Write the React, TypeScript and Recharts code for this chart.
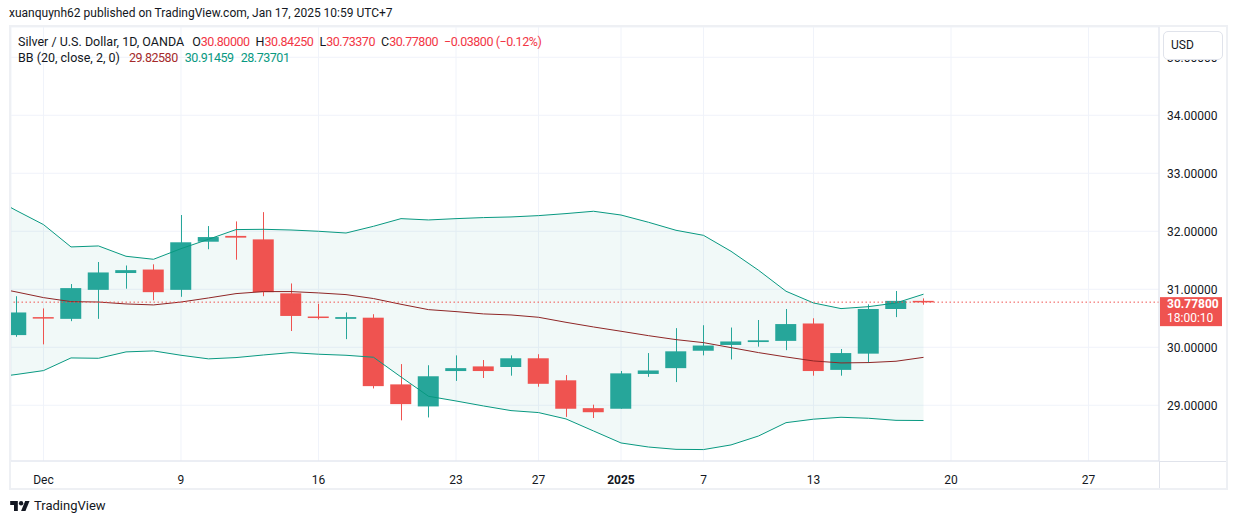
import { Area, Bar, CartesianGrid, ComposedChart, Line, ReferenceLine, XAxis, YAxis } from "recharts"

const UP = "#26a69a"
const DOWN = "#ef5350"
const BAND = "#089981"
const BASIS = "#8f2626"
const TEXT = "#131722"
const FONT = "Roboto, 'Noto Sans', sans-serif"

// first entry (Nov 28) only carries band values, it sits left of the visible range
const days = [
  "Nov 28", "Nov 29", "Dec 2", "Dec 3", "Dec 4", "Dec 5", "Dec 6", "Dec 9", "Dec 10", "Dec 11", "Dec 12",
  "Dec 13", "Dec 16", "Dec 17", "Dec 18", "Dec 19", "Dec 20", "Dec 23", "Dec 24", "Dec 26", "Dec 27",
  "Dec 30", "Dec 31", "Jan 2", "Jan 3", "Jan 6", "Jan 7", "Jan 8", "Jan 9", "Jan 10", "Jan 13",
  "Jan 14", "Jan 15", "Jan 16", "Jan 17",
]

const opens = [
  30.21, 30.52, 30.49, 30.99, 31.28, 31.34, 30.99, 31.82, 31.92, 31.86, 30.93, 30.53, 30.49, 30.51, 29.36, 28.98, 29.59,
  29.67, 29.66, 29.81, 29.43, 28.95, 28.94, 29.54, 29.64, 29.94, 30.04, 30.09, 30.11, 30.41, 29.61, 29.89, 30.66, 30.8,
]
const highs = [
  30.88, 30.67, 31.09, 31.47, 31.41, 31.43, 32.28, 32.09, 32.17, 32.33, 31.1, 30.75, 30.6, 30.57, 29.71, 29.69, 29.86,
  29.78, 29.86, 29.88, 29.52, 29.01, 29.59, 29.9, 30.33, 30.38, 30.34, 30.47, 30.66, 30.5, 29.97, 30.74, 30.97, 30.8425,
]
const lows = [
  30.18, 30.05, 30.45, 30.49, 31.01, 30.81, 30.87, 31.69, 31.51, 30.88, 30.28, 30.48, 30.14, 29.29, 28.74, 28.79, 29.42,
  29.47, 29.51, 29.32, 28.8, 28.78, 28.94, 29.49, 29.4, 29.86, 29.79, 30.01, 29.95, 29.51, 29.51, 29.73, 30.52, 30.7337,
]
const closes = [
  30.6, 30.5, 31.02, 31.29, 31.33, 30.95, 31.81, 31.9, 31.89, 30.95, 30.54, 30.51, 30.52, 29.33, 29.02, 29.5, 29.64,
  29.59, 29.81, 29.37, 28.94, 28.88, 29.55, 29.6, 29.93, 30.03, 30.1, 30.12, 30.4, 29.59, 29.9, 30.66, 30.8, 30.778,
]

const upper = [
  32.62, 32.36, 32.115, 31.73, 31.747, 31.569, 31.517, 31.7, 31.862, 32.029, 32.034, 32.022, 32.0, 31.97, 32.086, 32.218,
  32.195, 32.218, 32.236, 32.247, 32.27, 32.305, 32.345, 32.28, 32.155, 32.017, 31.93, 31.655, 31.328, 30.966, 30.764,
  30.667, 30.7, 30.764, 30.915,
]
const basis = [
  31.05, 30.955, 30.856, 30.787, 30.78, 30.747, 30.73, 30.78, 30.85, 30.925, 30.96, 30.96, 30.937, 30.908, 30.84, 30.741,
  30.649, 30.615, 30.575, 30.557, 30.517, 30.43, 30.35, 30.276, 30.2, 30.132, 30.08, 29.994, 29.908, 29.833, 29.764,
  29.73, 29.736, 29.759, 29.826,
]
const lower = [
  29.47, 29.53, 29.598, 29.816, 29.81, 29.92, 29.937, 29.862, 29.8, 29.822, 29.867, 29.908, 29.88, 29.862, 29.828, 29.488,
  29.155, 29.074, 28.988, 28.908, 28.874, 28.764, 28.557, 28.35, 28.28, 28.24, 28.236, 28.316, 28.47, 28.7, 28.76,
  28.793, 28.776, 28.74, 28.737,
]

const tickIdx = [1, 6, 11, 16, 19, 22, 25, 29, 34, 39]
const tickLabels = ["Dec", "9", "16", "23", "27", "2025", "7", "13", "20", "27"]
const priceTicks = [29, 30, 31, 32, 33, 34, 35]
const lastPrice = 30.778

const rows = days.map((day, k) => {
  const c = k - 1
  const has = c >= 0
  return {
    i: k - 1,
    day,
    open: has ? opens[c] : null,
    high: has ? highs[c] : null,
    low: has ? lows[c] : null,
    close: has ? closes[c] : null,
    range: has ? [lows[c], highs[c]] : null,
    upper: upper[k],
    basis: basis[k],
    lower: lower[k],
    band: [lower[k], upper[k]],
  }
})

function Candle(props: any) {
  const { x, y, width, height, payload } = props
  if (!payload || payload.open == null || height == null) return null
  const top = height >= 0 ? y : y + height
  const h = Math.abs(height)
  const k = h / (payload.high - payload.low)
  const yo = top + (payload.high - payload.open) * k
  const yc = top + (payload.high - payload.close) * k
  const color = payload.close >= payload.open ? UP : DOWN
  const cx = Math.round(x + width / 2) + 0.5
  return (
    <g>
      <line x1={cx} x2={cx} y1={top} y2={top + h} stroke={color} strokeWidth={1} />
      <rect x={x} y={Math.min(yo, yc)} width={width} height={Math.max(Math.abs(yo - yc), 1.5)} fill={color} />
    </g>
  )
}

function TimeTick(props: any) {
  const { x, y, payload } = props
  const label = tickLabels[tickIdx.indexOf(payload.value)]
  return (
    <text x={x} y={y + 15} textAnchor="middle" fill={TEXT} fontSize={12} fontFamily={FONT} fontWeight={label === "2025" ? 700 : 400}>
      {label}
    </text>
  )
}

function PriceTag(props: any) {
  const { viewBox } = props
  const right = viewBox.x + viewBox.width
  const y = viewBox.y
  return (
    <g>
      <rect x={right + 1} y={y - 5} width={62} height={29} fill={DOWN} />
      <text x={right + 8} y={y + 6} fill="#fff" fontSize={12} fontWeight={700} fontFamily={FONT}>
        {lastPrice.toFixed(5)}
      </text>
      <text x={right + 8} y={y + 20} fill="#fff" fontSize={12} fontFamily={FONT}>
        18:00:10
      </text>
    </g>
  )
}

const num = { letterSpacing: -0.45 }

export default function App() {
  return (
    <div style={{ position: "fixed", left: 0, top: 0, width: 1237, height: 524, background: "#fff", fontFamily: FONT, color: TEXT }}>
      <div style={{ position: "absolute", left: 9, top: 6, fontSize: 12, whiteSpace: "nowrap" }}>
        xuanquynh62 published on TradingView.com, Jan 17, 2025 10:59 UTC+7
      </div>

      <div style={{ position: "absolute", left: 9, top: 25, width: 1219, height: 465, boxSizing: "border-box", border: "2px solid #eef0f4" }} />

      <div style={{ position: "absolute", left: 11, top: 27 }}>
        <ComposedChart width={1215} height={461} data={rows} margin={{ top: 0, right: 0, bottom: 0, left: 0 }}>
          <CartesianGrid stroke="#f0f3fa" />
          <XAxis
            dataKey="i"
            type="number"
            domain={[-0.1818, 41.5636]}
            allowDataOverflow
            ticks={tickIdx}
            tick={<TimeTick />}
            tickLine={false}
            axisLine={{ stroke: "#e0e3eb" }}
            height={27}
            interval={0}
          />
          <YAxis
            orientation="right"
            type="number"
            domain={[28.039, 35.522]}
            allowDataOverflow
            ticks={priceTicks}
            tickFormatter={(v: number) => v.toFixed(5)}
            tick={{ fill: TEXT, fontSize: 12, fontFamily: FONT }}
            tickLine={false}
            axisLine={{ stroke: "#e0e3eb" }}
            width={67}
          />
          <Area dataKey="band" stroke="none" fill={BAND} fillOpacity={0.055} isAnimationActive={false} />
          <Line dataKey="upper" stroke={BAND} strokeWidth={1} dot={false} isAnimationActive={false} />
          <Line dataKey="lower" stroke={BAND} strokeWidth={1} dot={false} isAnimationActive={false} />
          <Line dataKey="basis" stroke={BASIS} strokeWidth={1} dot={false} isAnimationActive={false} />
          <ReferenceLine y={lastPrice} stroke={DOWN} strokeDasharray="1.5 2.5" label={<PriceTag />} />
          <Bar dataKey="range" barSize={21} shape={<Candle />} isAnimationActive={false} />
        </ComposedChart>
      </div>

      <div style={{ position: "absolute", left: 1159, top: 461, width: 1, height: 27, background: "#e0e3eb" }} />
      <div style={{ position: "absolute", left: 1159, top: 461, width: 67, height: 1, background: "#e0e3eb" }} />

      <div style={{ position: "absolute", left: 18, top: 34, fontSize: 12.5, whiteSpace: "nowrap", lineHeight: "16px" }}>
        <div>
          Silver / U.S. Dollar, 1D, OANDA
          <span style={{ marginLeft: 8 }}>O</span><span style={{ ...num, color: "#f23645" }}>30.80000</span>
          <span style={{ marginLeft: 6 }}>H</span><span style={{ ...num, color: "#f23645" }}>30.84250</span>
          <span style={{ marginLeft: 6 }}>L</span><span style={{ ...num, color: "#f23645" }}>30.73370</span>
          <span style={{ marginLeft: 6 }}>C</span><span style={{ ...num, color: "#f23645" }}>30.77800</span>
          <span style={{ ...num, marginLeft: 6, color: "#f23645" }}>−0.03800 (−0.12%)</span>
        </div>
        <div>
          BB (20, close, 2, 0)
          <span style={{ ...num, marginLeft: 9, color: "#a52a2a" }}>29.82580</span>
          <span style={{ ...num, marginLeft: 7, color: BAND }}>30.91459</span>
          <span style={{ ...num, marginLeft: 7, color: BAND }}>28.73701</span>
        </div>
      </div>

      <div
        style={{
          position: "absolute",
          left: 1163,
          top: 31,
          width: 51,
          height: 27,
          background: "#fff",
          border: "1px solid #e0e3eb",
          borderRadius: 5,
          fontSize: 12,
          lineHeight: "26px",
          paddingLeft: 7,
        }}
      >
        USD
      </div>

      <div style={{ position: "absolute", left: 10, top: 498, display: "flex", alignItems: "center", gap: 4 }}>
        <svg width={20} height={12} viewBox="0 0 36 22">
          <path d="M14 20H7V9H0V2h14v18z" fill={TEXT} />
          <circle cx={20} cy={6} r={4} fill={TEXT} />
          <path d="M28 20h-8l7.5-18h8L28 20z" fill={TEXT} />
        </svg>
        <span style={{ fontSize: 13 }}>TradingView</span>
      </div>
    </div>
  )
}
